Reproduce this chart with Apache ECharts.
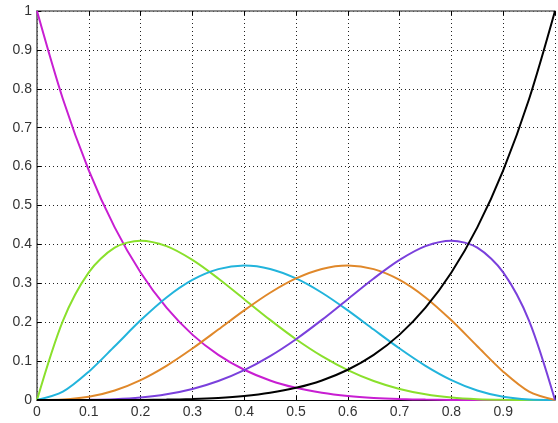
<!DOCTYPE html>
<html>
<head>
<meta charset="utf-8">
<script src="https://cdn.jsdelivr.net/npm/echarts@6/dist/echarts.min.js"></script>
<style>html,body{margin:0;padding:0;background:#fff;}#c{width:558px;height:423px;}</style>
</head>
<body>
<div id="c"></div>
<script>
var tValues = [0,0.05,0.1,0.15,0.2,0.25,0.3,0.35,0.4,0.45,0.5,0.55,0.6,0.65,0.7,0.75,0.8,0.85,0.9,0.95,1];
var magenta = [1,0.7738,0.59049,0.4437,0.32768,0.2373,0.16807,0.1160,0.07776,0.0503,0.03125,0.01845,0.01024,0.00525,0.00243,0.00098,0.00032,0.00008,0.00001,0,0];
var green = [0,0.2036,0.32805,0.3915,0.4096,0.3955,0.36015,0.3124,0.2592,0.2059,0.15625,0.1128,0.0768,0.0488,0.02835,0.01465,0.0064,0.00215,0.00045,0.00003,0];
var cyan = [0,0.02143,0.0729,0.1382,0.2048,0.2637,0.3087,0.3364,0.3456,0.3369,0.3125,0.2757,0.2304,0.1811,0.1323,0.08789,0.0512,0.02438,0.0081,0.00113,0];
var orange = [0,0.00113,0.0081,0.02438,0.0512,0.08789,0.1323,0.1811,0.2304,0.2757,0.3125,0.3369,0.3456,0.3364,0.3087,0.2637,0.2048,0.1382,0.0729,0.02143,0];
var purple = [0,0.00003,0.00045,0.00215,0.0064,0.01465,0.02835,0.0488,0.0768,0.1128,0.15625,0.2059,0.2592,0.3124,0.36015,0.3955,0.4096,0.3915,0.32805,0.2036,0];
var black = [0,0,0.00001,0.00008,0.00032,0.00098,0.00243,0.00525,0.01024,0.01845,0.03125,0.0503,0.07776,0.1160,0.16807,0.2373,0.32768,0.4437,0.59049,0.7738,1];
var xTickLabels = ['0','0.1','0.2','0.3','0.4','0.5','0.6','0.7','0.8','0.9',''];
var yTickLabels = ['0','0.1','0.2','0.3','0.4','0.5','0.6','0.7','0.8','0.9','1'];

function pairs(ys){ return tValues.map(function(t,i){ return [t, ys[i]]; }); }
var chart = echarts.init(document.getElementById('c'), null, {renderer:'canvas'});
var gridLine = {show:true, lineStyle:{color:'#222', width:1, type:[1,3]}};
function mk(name, ys, color){
  return {name:name, type:'line', data:pairs(ys), smooth:0.3, showSymbol:false, symbol:'none',
    lineStyle:{color:color, width:2}, itemStyle:{color:color}, animation:false, z:3};
}
chart.setOption({
  animation:false,
  grid:{left:37, right:-3, top:11, bottom:23, containLabel:false},
  xAxis:[{
    type:'value', min:0, max:1, interval:0.1, position:'bottom',
    axisLine:{show:true, onZero:false, lineStyle:{color:'#000', width:1}},
    axisTick:{show:true, inside:true, length:4, lineStyle:{color:'#000'}},
    axisLabel:{color:'#333', fontFamily:'Liberation Sans', fontSize:14, margin:5,
      formatter:function(v){ return xTickLabels[Math.round(v*10)]; }},
    splitLine:gridLine
  },{
    type:'value', min:0, max:1, interval:0.1, position:'top',
    axisLine:{show:true, onZero:false, lineStyle:{color:'#666', width:1.5}},
    axisTick:{show:true, inside:true, length:4, lineStyle:{color:'#000'}},
    axisLabel:{show:false}, splitLine:{show:false}
  }],
  yAxis:[{
    type:'value', min:0, max:1, interval:0.1,
    axisLine:{show:true, onZero:false, lineStyle:{color:'#555', width:1.5}},
    axisTick:{show:true, inside:true, length:4, lineStyle:{color:'#000'}},
    axisLabel:{color:'#333', fontFamily:'Liberation Sans', fontSize:14, margin:5,
      formatter:function(v){ return yTickLabels[Math.round(v*10)]; }},
    splitLine:gridLine
  }],
  series:[
    mk('magenta', magenta, '#c81ed2'),
    mk('green', green, '#8ae02c'),
    mk('cyan', cyan, '#22b4dc'),
    mk('orange', orange, '#e0882a'),
    mk('purple', purple, '#7a40dc'),
    mk('black', black, '#000000')
  ]
});
</script>
</body>
</html>
